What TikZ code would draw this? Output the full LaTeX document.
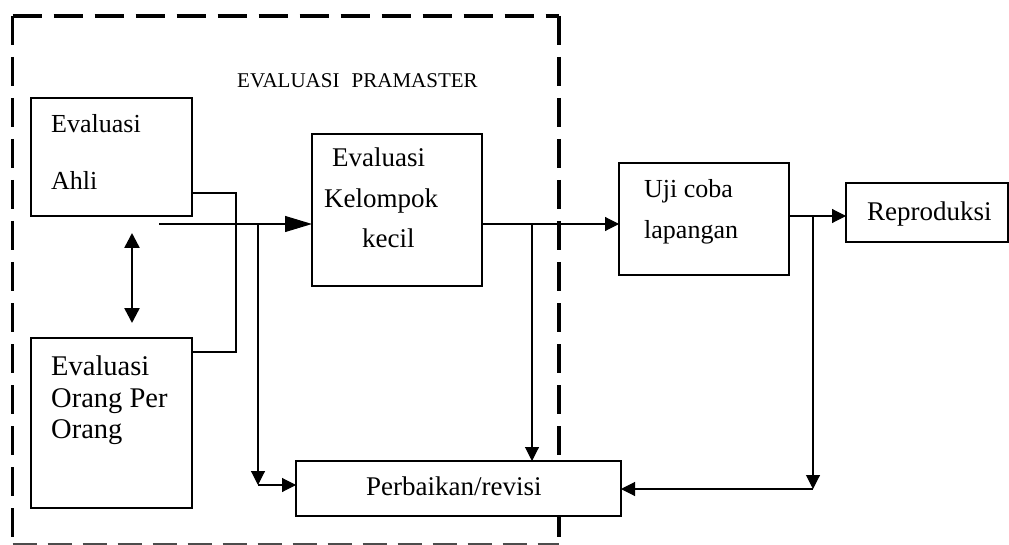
\documentclass[tikz,border=0pt]{standalone}
\usepackage{fontspec}
\setmainfont{Liberation Serif}
\usetikzlibrary{arrows.meta}
\begin{document}
\begin{tikzpicture}[x=1pt,y=-1pt,
  box/.style={draw, line width=1.5pt, fill=white, inner sep=0pt, outer sep=0pt, anchor=north west},
  txt/.style={anchor=base west, inner sep=0pt, font=\fontsize{27}{31}\selectfont},
  txtbig/.style={txt, font=\fontsize{28.5}{32}\selectfont},
  txtsmall/.style={txt, font=\fontsize{26}{30}\selectfont},
  conn/.style={line width=1.1pt},
  arr/.style={conn, -{Triangle[length=14pt,width=14pt]}},
  arrbig/.style={conn, -{Triangle[length=27pt,width=16pt]}},
  frame/.style={line width=3.2pt, dash pattern=on 29pt off 12pt},
  framethin/.style={line width=2pt, draw=black!70, dash pattern=on 24pt off 11pt}
]
\useasboundingbox (0,0) rectangle (1009,545);
% dashed frame
\coordinate (f1) at (12.5,16);
\coordinate (f2) at (559,16);
\coordinate (f3) at (559,544);
\coordinate (f4) at (12.5,544);
\draw[frame] (f1) -- (f2);
\draw[frame] (f1) -- (f4);
\draw[frame] (f2) -- (f3);
\draw[framethin] (f4) -- (f3);
\node[anchor=base west, inner sep=0pt, font=\fontsize{21}{25}\selectfont] (title) at (237,88) {EVALUASI\hspace{7pt} PRAMASTER};

% boxes
\node[box, minimum width=161pt, minimum height=118pt] (ahli) at (31,98) {};
\node[box, minimum width=161pt, minimum height=170pt] (orang) at (31,338) {};
\node[box, minimum width=170pt, minimum height=152pt] (kel) at (312,134) {};
\node[box, minimum width=170pt, minimum height=112pt] (uji) at (619,163) {};
\node[box, minimum width=162pt, minimum height=59pt] (rep) at (846,183) {};
\node[box, minimum width=325pt, minimum height=55pt] (perb) at (296,461) {};

% texts
\node[txtsmall] (t1) at (51,133) {Evaluasi};
\node[txtsmall] (t2) at (51,190) {Ahli};
\node[txtbig] (t3) at (51,375) {Evaluasi};
\node[txtbig] (t4) at (51,407) {Orang Per};
\node[txtbig] (t5) at (51,438) {Orang};
\node[txt] (t6) at (332,167) {Evaluasi};
\node[txt] (t7) at (324,208) {Kelompok};
\node[txt] (t8) at (362,248) {kecil};
\node[txtsmall] (t9) at (644,198) {Uji coba};
\node[txtsmall] (t10) at (644,239) {lapangan};
\node[txt] (t11) at (867,221) {Reproduksi};
\node[txt] (t12) at (366,495) {Perbaikan/revisi};

% connectors
\coordinate (bA) at (236,193);
\coordinate (bB) at (236,352);
\draw[conn] (ahli.east |- bA) -- (bA) -- (bB) -- (orang.east |- bB);

\coordinate (start) at (159,224);
\draw[arrbig] (start) -- (kel.west |- start);
\coordinate (j1) at (258,224);
\coordinate (c1) at (258,485);
\draw[arr] (j1) -- (c1);
\draw[arr] (c1) -- (perb.west |- c1);

\draw[arr] (kel.east |- start) -- (uji.west |- start);
\coordinate (j2) at (532,224);
\draw[arr] (j2) -- (perb.north -| j2);

\coordinate (j3) at (813,216);
\draw[arr] (uji.east |- j3) -- (rep.west |- j3);
\coordinate (c3) at (813,489);
\draw[arr] (j3) -- (c3);
\draw[arr] (c3) -- (perb.east |- c3);

\coordinate (d1) at (132,233);
\coordinate (d2) at (132,323);
\draw[line width=2.5pt, {Triangle[length=15pt,width=15pt]}-{Triangle[length=15pt,width=15pt]}] (d1) -- (d2);
\end{tikzpicture}
\end{document}
